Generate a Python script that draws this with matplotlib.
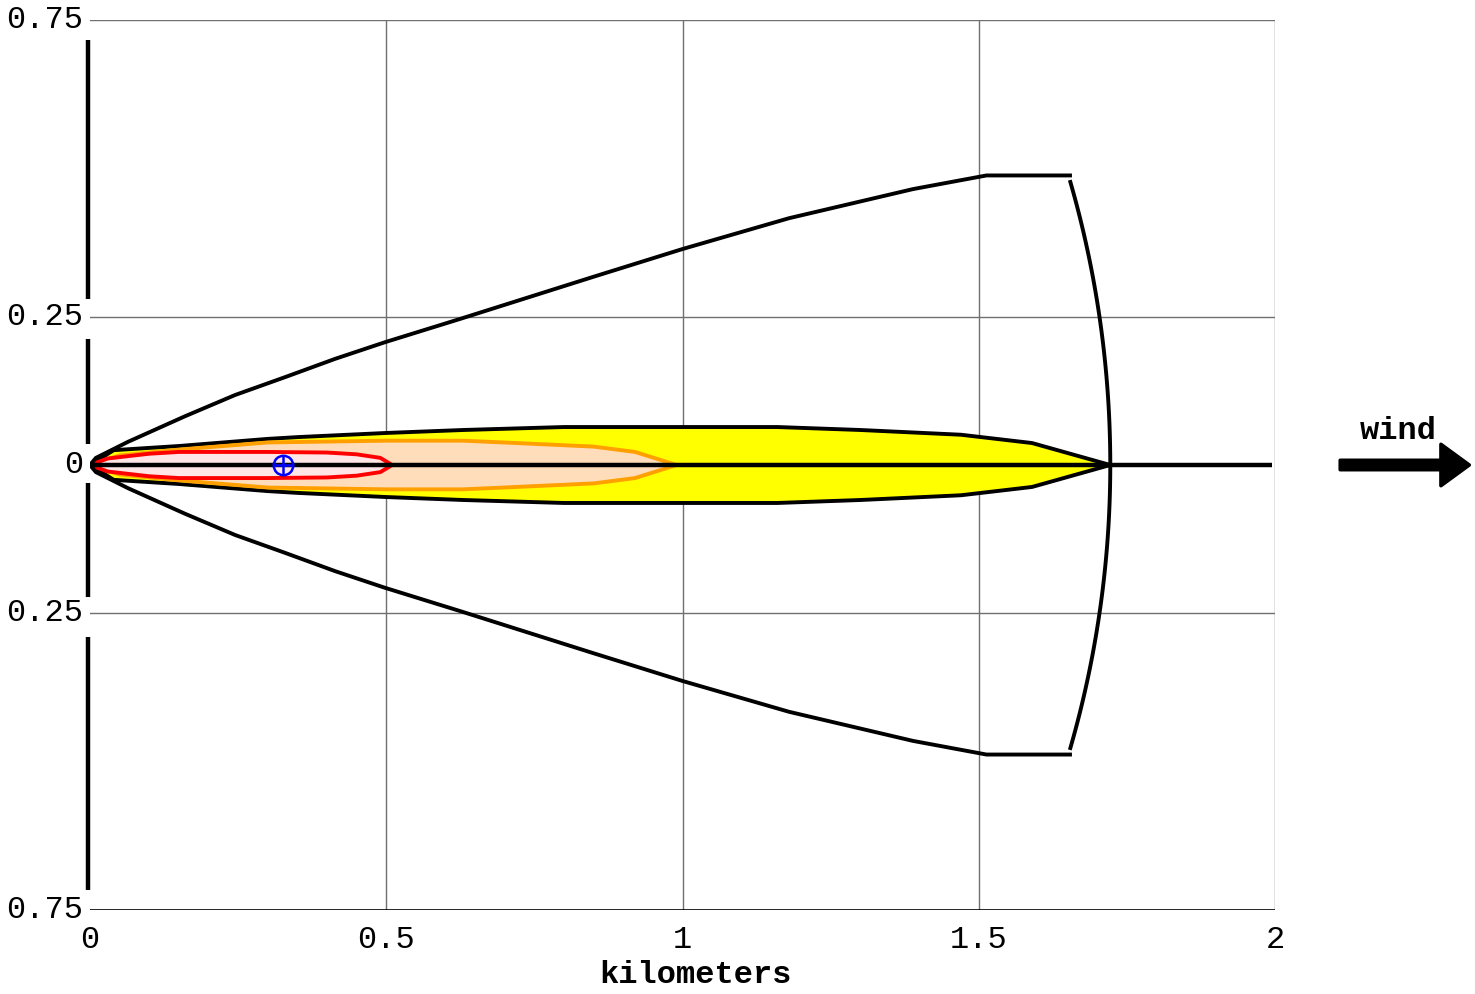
"""
Threat zone footprint plot (downwind distance vs crosswind distance).
"""

import numpy as np
import matplotlib.pyplot as plt
from matplotlib.patches import FancyArrow

plt.rcParams['font.family'] = ['Liberation Mono', 'DejaVu Sans Mono']

# Downwind distance (km) and crosswind half-width (km) of each zone
RED_X = [0, 0.03, 0.10, 0.15, 0.30, 0.40, 0.45, 0.49, 0.51]
RED_Y = [0, 0.011, 0.019, 0.022, 0.022, 0.021, 0.018, 0.012, 0]

ORANGE_X = [0, 0.05, 0.15, 0.30, 0.50, 0.63, 0.72, 0.85, 0.92, 0.99]
ORANGE_Y = [0, 0.016, 0.026, 0.038, 0.041, 0.041, 0.037, 0.031, 0.022, 0]

YELLOW_X = [0, 0.04, 0.15, 0.30, 0.35, 0.50, 0.63, 0.80, 1.00, 1.16, 1.30, 1.47, 1.59, 1.722]
YELLOW_Y = [0, 0.025, 0.032, 0.044, 0.047, 0.054, 0.059, 0.064, 0.064, 0.064, 0.059, 0.051, 0.037, 0]

# Wind direction confidence lines
OUTER_X = [0, 0.01, 0.064, 0.16, 0.245, 0.329, 0.414, 0.498, 0.624, 0.849, 1.0, 1.18, 1.389, 1.513, 1.654]
OUTER_Y = [0, 0.012, 0.039, 0.082, 0.118, 0.148, 0.179, 0.207, 0.246, 0.317, 0.364, 0.416, 0.465, 0.488, 0.488]

ARC_RADIUS = 1.722
ARC_HALF = 0.477
SOURCE_X = 0.325

X_TICKS = [0, 0.5, 1, 1.5, 2]
X_LABELS = ['0', '0.5', '1', '1.5', '2']
Y_TICKS = [0.75, 0.25, 0, -0.25, -0.75]
Y_LABELS = ['0.75', '0.25', '0', '0.25', '0.75']

FS = 23
LW = 2.8


def zone(ax, xs, ys, face, edge, z):
    xs = np.array(xs)
    ys = np.array(ys)
    px = np.concatenate([xs, xs[::-1]])
    py = np.concatenate([ys, -ys[::-1]])
    ax.fill(px, py, facecolor=face, edgecolor=edge, linewidth=LW, zorder=z,
            joinstyle='round')


def main():
    fig = plt.figure(figsize=(14.75, 9.94), dpi=100)
    ax = fig.add_axes([90 / 1475, 84 / 994, 1185 / 1475, 890 / 994])
    ax.set_xlim(0, 2)
    ax.set_ylim(-0.75, 0.75)

    # frame / grid
    for s in ax.spines.values():
        s.set_visible(False)
    for gx in [0.5, 1, 1.5, 2]:
        ax.axvline(gx, color='#707070', linewidth=1, zorder=1)
    for gy in [0.75, 0.25, -0.25]:
        ax.axhline(gy, color='#707070', linewidth=1, zorder=1)
    ax.axhline(-0.75, color='black', linewidth=1.2, zorder=1)

    # broken thick left axis
    for y0, y1 in [(0.716, 0.28), (0.212, 0.035), (-0.03, -0.222), (-0.29, -0.716)]:
        ax.plot([-0.004, -0.004], [y0, y1], color='black', linewidth=3.2,
                solid_capstyle='butt', clip_on=False, zorder=5)

    zone(ax, YELLOW_X, YELLOW_Y, '#FFFF00', 'black', 3)
    zone(ax, ORANGE_X, ORANGE_Y, '#FFDDBB', '#FFA000', 4)
    zone(ax, RED_X, RED_Y, '#FFE6E6', '#FF0000', 5)

    ox = np.array(OUTER_X)
    oy = np.array(OUTER_Y)
    ax.plot(ox, oy, color='black', linewidth=LW, zorder=6, solid_joinstyle='round')
    ax.plot(ox, -oy, color='black', linewidth=LW, zorder=6, solid_joinstyle='round')

    th = np.arcsin(ARC_HALF / ARC_RADIUS)
    t = np.linspace(-th, th, 100)
    ax.plot(ARC_RADIUS * np.cos(t), ARC_RADIUS * np.sin(t), color='black',
            linewidth=LW, zorder=6)

    # centerline
    ax.plot([0, 1.995], [0, 0], color='black', linewidth=3.2, zorder=7,
            solid_capstyle='butt')

    # source marker
    ax.plot([SOURCE_X], [0], marker='o', markersize=14, markerfacecolor='none',
            markeredgecolor='#0000FF', markeredgewidth=1.8, zorder=8)
    ax.plot([SOURCE_X], [0], marker='+', markersize=14, color='#0000FF',
            markeredgewidth=1.8, zorder=8)

    ax.set_xticks(X_TICKS)
    ax.set_xticklabels(X_LABELS)
    ax.set_yticks(Y_TICKS)
    ax.set_yticklabels(Y_LABELS)
    ax.tick_params(axis='both', length=0, labelsize=FS)
    ax.tick_params(axis='x', pad=11)
    ax.tick_params(axis='y', pad=5)
    for lab in ax.get_yticklabels():
        lab.set_verticalalignment('center')

    ax.set_xlabel('kilometers', fontsize=FS, fontweight='bold')
    ax.xaxis.set_label_coords((695 - 90) / 1185, -0.056)

    # wind arrow
    ax.text(2.208, 0.058, 'wind', fontsize=FS, fontweight='bold',
            ha='center', va='center', clip_on=False)
    arrow = FancyArrow(2.11, 0, 0.17, 0, width=0.016, head_width=0.07,
                       head_length=0.048, length_includes_head=False,
                       color='black', linewidth=2.5, joinstyle='round',
                       clip_on=False, zorder=9)
    ax.add_patch(arrow)

    fig.savefig('out.png', dpi=100)
    plt.close(fig)


if __name__ == "__main__":
    main()
